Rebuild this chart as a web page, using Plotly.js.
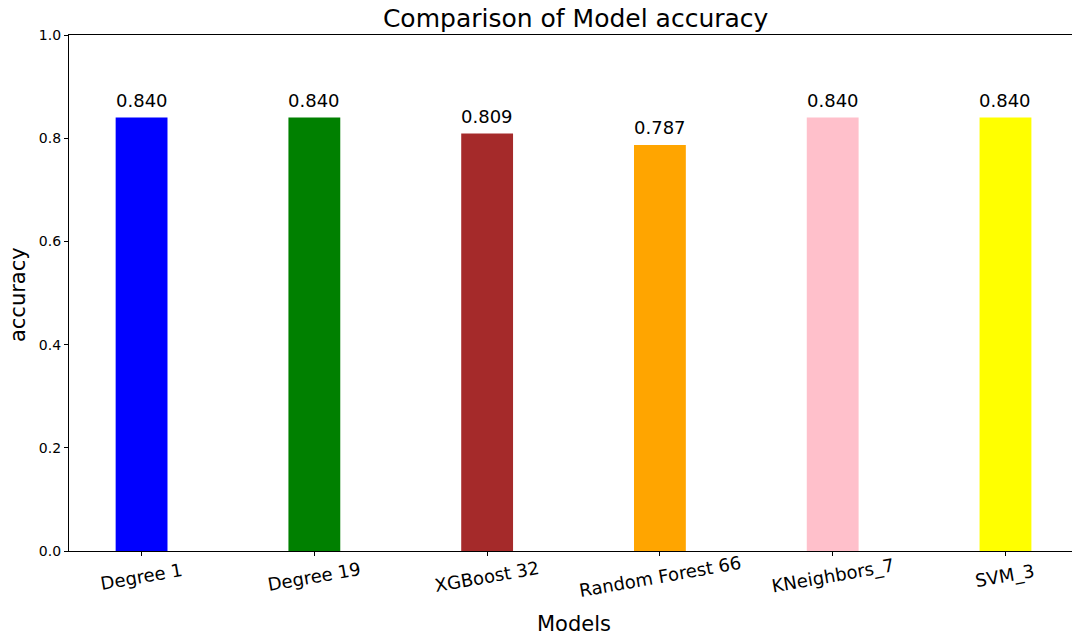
<!DOCTYPE html>
<html>
<head>
<meta charset="utf-8">
<script src="https://cdn.plot.ly/plotly-3.0.1.min.js"></script>
<style>html,body{margin:0;padding:0;background:#fff;}#chart{width:1072px;height:641px;}</style>
</head>
<body>
<div id="chart"></div>
<script>
const models = ["Degree 1", "Degree 19", "XGBoost 32", "Random Forest 66", "KNeighbors_7", "SVM_3"];
const accuracy = [0.840, 0.840, 0.809, 0.787, 0.840, 0.840];
const barColors = ["blue", "green", "brown", "orange", "pink", "yellow"];
const yTicks = [0.0, 0.2, 0.4, 0.6, 0.8, 1.0];

const font = "DejaVu Sans, sans-serif";

const trace = {
  type: "bar",
  x: models,
  y: accuracy,
  width: 0.3,
  marker: {color: barColors, line: {width: 0}},
  hoverinfo: "skip"
};

const valueLabels = models.map((m, i) => ({
  x: m, y: accuracy[i], xref: "x", yref: "y",
  text: accuracy[i].toFixed(3), showarrow: false,
  yanchor: "bottom", yshift: 5,
  font: {family: font, size: 18, color: "#000"}
}));

const tickLabels = models.map(m => ({
  x: m, y: 0, xref: "x", yref: "paper",
  text: m, showarrow: false, textangle: -10,
  xanchor: "center", yanchor: "middle", yshift: -25,
  font: {family: font, size: 18, color: "#000"}
}));

const axisTitles = [
  {x: 0.5035, y: 0, xref: "paper", yref: "paper", text: "Models", showarrow: false,
   xanchor: "center", yanchor: "middle", yshift: -73,
   font: {family: font, size: 21, color: "#000"}},
  {x: 0, y: 0.496, xref: "paper", yref: "paper", text: "accuracy", showarrow: false,
   textangle: -90, xanchor: "center", yanchor: "middle", xshift: -51,
   font: {family: font, size: 21, color: "#000"}}
];

const layout = {
  width: 1072, height: 641,
  margin: {l: 69, r: 0, t: 35, b: 90},
  paper_bgcolor: "#fff", plot_bgcolor: "#fff",
  showlegend: false,
  font: {family: font, color: "#000"},
  title: {text: "Comparison of Model accuracy", font: {family: font, size: 25, color: "#000"},
          x: 0.537, xanchor: "center", y: 0.972, yanchor: "middle"},
  xaxis: {
    type: "category",
    range: [-0.42, 5.385],
    showgrid: false, zeroline: false,
    showline: true, linecolor: "#000", linewidth: 1.1, mirror: true,
    ticks: "outside", ticklen: 4, tickwidth: 1, tickcolor: "#000",
    showticklabels: false
  },
  yaxis: {
    range: [0, 1.0],
    tickvals: yTicks,
    ticktext: yTicks.map(v => v.toFixed(1)),
    showgrid: false, zeroline: false,
    showline: true, linecolor: "#000", linewidth: 1.1,
    ticks: "outside", ticklen: 4, tickwidth: 1, tickcolor: "#000",
    tickfont: {family: font, size: 14, color: "#000"}
  },
  annotations: valueLabels.concat(tickLabels, axisTitles)
};

Plotly.newPlot("chart", [trace], layout, {staticPlot: true, displayModeBar: false});
</script>
</body>
</html>
